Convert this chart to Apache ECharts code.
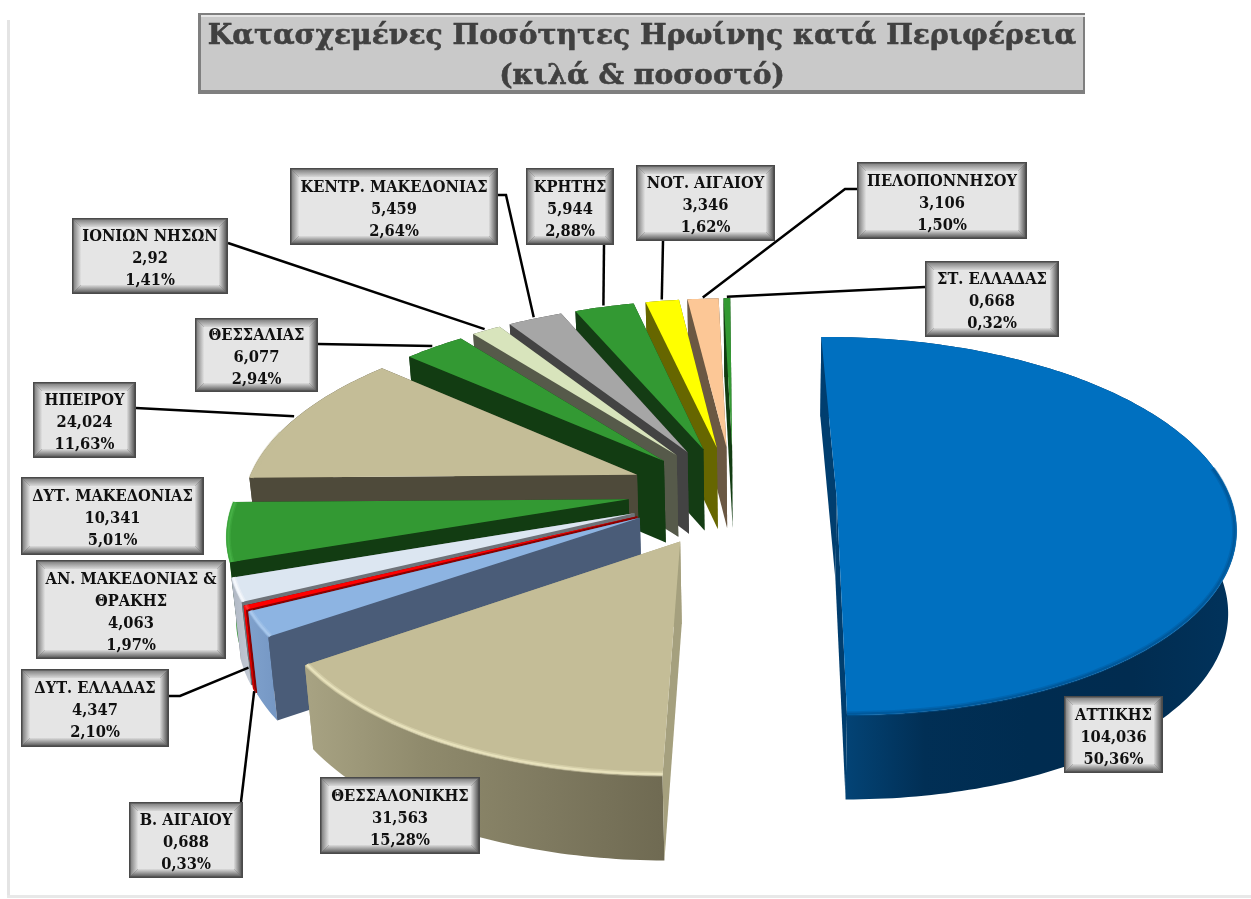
<!DOCTYPE html>
<html><head><meta charset="utf-8">
<style>html,body{margin:0;padding:0;background:#fff}#c{width:1251px;height:899px}</style>
<script src="https://cdn.jsdelivr.net/npm/echarts@6/dist/echarts.min.js"></script>
</head><body><div id="c"></div>
<script>
// DATA
const regions = ['ΑΤΤΙΚΗΣ','ΘΕΣΣΑΛΟΝΙΚΗΣ','ΔΥΤ. ΕΛΛΑΔΑΣ','Β. ΑΙΓΑΙΟΥ','ΑΝ. ΜΑΚΕΔΟΝΙΑΣ &\nΘΡΑΚΗΣ','ΔΥΤ. ΜΑΚΕΔΟΝΙΑΣ','ΗΠΕΙΡΟΥ','ΘΕΣΣΑΛΙΑΣ','ΙΟΝΙΩΝ ΝΗΣΩΝ','ΚΕΝΤΡ. ΜΑΚΕΔΟΝΙΑΣ','ΚΡΗΤΗΣ','ΝΟΤ. ΑΙΓΑΙΟΥ','ΠΕΛΟΠΟΝΝΗΣΟΥ','ΣΤ. ΕΛΛΑΔΑΣ'];
const kilos = [104.036,31.563,4.347,0.688,4.063,10.341,24.024,6.077,2.92,5.459,5.944,3.346,3.106,0.668];
const percents = ['50,36%','15,28%','2,10%','0,33%','1,97%','5,01%','11,63%','2,94%','1,41%','2,64%','2,88%','1,62%','1,50%','0,32%'];

// STYLE
const topColors = ['#0070C0','#C4BD97','#8DB4E2','#FF0000','#DCE6F1','#339933','#C4BD97','#339933','#D8E4BC','#A6A6A6','#339933','#FFFF00','#FCC796','#339933'];
const wallColors = ['#003E6F','#A5A07E','#4A5C78','#8A0000','#6E7278','#123C12','#4E4A3A','#123C12','#565A4A','#434343','#143C14','#666600','#6B5843','#123C12'];
const outerStops = [
 ['#044A80','#012F55','#002C50','#012C50','#01335C'],
 ['#A8A383','#8F8A6C','#7F7A60','#6F6A52'],
 ['#7FA1CC','#7597C4'],
 ['#FF0000','#C00000'],
 ['#AEB6C2','#C4CBD6'],
 ['#2E8B2E','#3AA53A','#2E8B2E'],
 ['#4E4A3A'],['#123C12'],['#565A4A'],['#434343'],['#143C14'],['#666600'],['#6B5843'],['#123C12']
];
const rimColors = ['#00599C','#E8E2BC','#A9C8EC','#FF3030','#F4F7FB','#45B045','#C4BD97','#339933','#D8E4BC','#A6A6A6','#339933','#FFFF00','#FCC796','#339933'];

// LAYOUT (label boxes, leader routes, small per-slice placement corrections)
const boxes = [[1064,696,1163,773],[320,777,480,854],[21,669,169,747],[129,802,243,878],[36,560,226,659],[21,477,204,555],[33,382,136,458],[195,318,318,392],[72,218,228,294],[290,168,498,245],[526,168,614,245],[636,165,775,241],[857,162,1027,239],[925,261,1059,337]];
const leaderRoutes = [null,null,[[169,696],[180,696]],[[241,802]],null,null,[[136,408]],[[318,344]],[[228,243]],[[498,195],[506,195]],[[604,245]],[[663,241]],[[857,189],[845,189]],[[925,287]]];
// anchor on the slice: fraction of the slice's arc, radius, height (0 top, 1 base)
const anchors = [null,null,[1.56,1.0,0.85],[0.5,1.0,1],null,null,[0.5,1.01,0],[0.5,1.01,0],[0.5,1.01,0],[0.5,1.01,0],[0.5,1.01,0],[0.5,1.01,0],[0.5,1.01,0],[0.5,1.01,0]];
const placeX = [-0.003,-0.012,-0.015,-0.012,-0.012,-0.015,-0.012,-0.01,-0.005,-0.005,-0.005,-0.005,-0.005,-0.005];
const placeY = [0,-0.004,-0.03,-0.02,-0.02,-0.04,-0.04,-0.02,-0.03,-0.03,-0.03,-0.03,-0.03,-0.03];

// Perspective camera for the pie
const cam = {vx:767, vy:-748, d:6.74, A:2655, B:8400, h0:82, h1:2.5, x0:-0.08, k:0.018, e:0.26, rot:-1.07};
const total = kilos.reduce((a,b)=>a+b,0);
const starts = []; { let c=cam.rot; kilos.forEach(v=>{starts.push(c); c+=v/total*360;}); }
const rad = Math.PI/180;
function project(X,Y,z){
  const D = cam.d - Y;
  let sx = cam.vx + cam.A*(X+cam.x0)/D;
  let sy = cam.vy + cam.B/D + z*(cam.h0+cam.h1*Y);
  sx = cam.vx + (sx-cam.vx)*(1-z*cam.k);
  return [sx,sy];
}
function offset(i){
  const mid = (starts[i] + kilos[i]/total*180)*rad;
  return [cam.e*Math.sin(mid)+placeX[i], -cam.e*Math.cos(mid)+placeY[i]];
}
function onRim(i,theta,r,z){
  const o = offset(i);
  return project(o[0]+r*Math.sin(theta*rad), o[1]-r*Math.cos(theta*rad), z);
}
function grad(x,y,x2,y2,cols){
  if(cols.length===1) return cols[0];
  return new echarts.graphic.LinearGradient(x,y,x2,y2,cols.map((c,j)=>({offset:j/(cols.length-1),color:c})));
}
function renderSlice(params){
  const i = params.dataIndex, a0 = starts[i], a1 = a0 + kilos[i]/total*360;
  const o = offset(i);
  const apexT = project(o[0],o[1],0), apexB = project(o[0],o[1],1);
  const arcT=[], arcB=[], rim=[], n = Math.max(2,Math.ceil(a1-a0));
  for(let j=0;j<=n;j++){
    const t=a0+(a1-a0)*j/n; arcT.push(onRim(i,t,1,0)); arcB.push(onRim(i,t,1,1));
    if(t>=80&&t<=285) rim.push(onRim(i,t,0.995,0));
  }
  const z2 = 100 - i*(i===0?0:1) - (i===0?90:0);
  const wall = (c,pts)=>({type:'polygon',z2,shape:{points:pts},style:{fill:c}});
  const children = [
    wall(wallColors[i],[apexT,arcT[n],arcB[n],apexB]),
    {type:'polygon',z2,shape:{points:arcT.concat(arcB.slice().reverse())},style:{fill:grad(0,0,1,0,outerStops[i])}},
    wall(wallColors[i],[apexT,arcT[0],arcB[0],apexB]),
    {type:'polygon',z2,shape:{points:[apexT].concat(arcT)},style:{fill:topColors[i]}}
  ];
  if(rim.length>1) children.push(
    {type:'polyline',z2,shape:{points:rim},style:{fill:null,stroke:rimColors[i],lineWidth:5,opacity:0.45}},
    {type:'polyline',z2,shape:{points:rim},style:{fill:null,stroke:rimColors[i],lineWidth:2}});
  return {type:'group',children};
}
function bevelBox(b,text){
  const [x0,y0,x1,y1]=b, w=9, m=1.5;
  const xi0=x0+w, yi0=y0+w, xi1=x1-w, yi1=y1-w;
  const mk=(pts,fill)=>({type:'polygon',shape:{points:pts},style:{fill}});
  return [
    {type:'rect',shape:{x:x0,y:y0,width:x1-x0,height:y1-y0},style:{fill:'#4A4A4A'}},
    mk([[x0+m,y0+m],[x1-m,y0+m],[xi1,yi0],[xi0,yi0]],grad(0,0,0,1,['#808080','#D8D8D8'])),
    mk([[x0+m,y0+m],[xi0,yi0],[xi0,yi1],[x0+m,y1-m]],grad(0,0,1,0,['#808080','#E2E2E2'])),
    mk([[x1-m,y0+m],[xi1,yi0],[xi1,yi1],[x1-m,y1-m]],grad(0,0,1,0,['#DCDCDC','#585858'])),
    mk([[x0+m,y1-m],[x1-m,y1-m],[xi1,yi1],[xi0,yi1]],grad(0,0,0,1,['#DCDCDC','#5E5E5E'])),
    {type:'rect',shape:{x:xi0,y:yi0,width:xi1-xi0,height:yi1-yi0},style:{fill:'#E5E5E5'}},
    {type:'text',style:{text,x:(x0+x1)/2,y:(y0+y1)/2+3,align:'center',verticalAlign:'middle',
      font:'bold 16.3px "DejaVu Serif Condensed","DejaVu Serif",serif',lineHeight:22,fill:'#101010'}}
  ];
}
function renderLabel(params){
  const i=params.dataIndex;
  const kids=[];
  if(leaderRoutes[i]&&anchors[i]){
    const an=anchors[i];
    const t=starts[i]+kilos[i]/total*360*an[0];
    kids.push({type:'polyline',shape:{points:leaderRoutes[i].concat([onRim(i,t,an[1],an[2])])},style:{fill:null,stroke:'#000',lineWidth:2.5}});
  }
  const text=regions[i]+'\n'+String(kilos[i]).replace('.',',')+'\n'+percents[i];
  return {type:'group',children:kids.concat(bevelBox(boxes[i],text))};
}
const chart = echarts.init(document.getElementById('c'));
chart.setOption({
  animation:false,
  backgroundColor:'#fff',
  title:{text:'Κατασχεμένες Ποσότητες Ηρωίνης κατά Περιφέρεια\n(κιλά & ποσοστό)',left:637,top:12,textAlign:'center',
    textStyle:{fontFamily:'"DejaVu Serif",serif',fontWeight:'bold',fontSize:28.2,lineHeight:40,color:'#404040',textBorderColor:'#404040',textBorderWidth:0.6},z:10},
  graphic:[
    {type:'rect',shape:{x:7,y:20,width:3,height:876},style:{fill:'#E4E4E4'}},
    {type:'rect',shape:{x:7,y:895,width:1244,height:3},style:{fill:'#E8E8E8'}},
    {type:'rect',shape:{x:198,y:13,width:887,height:81},style:{fill:'#7F7F7F'}},
    {type:'rect',shape:{x:201,y:15,width:884,height:2},style:{fill:'#E6E6E6'}},
    {type:'rect',shape:{x:201,y:17,width:882,height:73},style:{fill:'#C9C9C9'}}
  ],
  series:[
    {type:'custom',coordinateSystem:'none',silent:true,clip:false,renderItem:renderSlice,z:2,
     data:regions.map((n,i)=>({name:n,value:kilos[i]}))},
    {type:'custom',coordinateSystem:'none',silent:true,clip:false,renderItem:renderLabel,z:3,
     data:regions.map((n,i)=>({name:n,value:kilos[i]}))}
  ]
});
</script></body></html>
